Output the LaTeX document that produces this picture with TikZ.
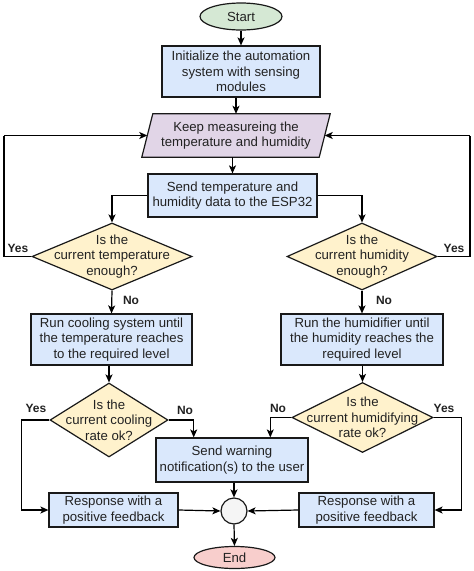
\documentclass[tikz,border=0pt]{standalone}
\usepackage{fontspec}
\setmainfont{Liberation Sans}
\usetikzlibrary{shapes.geometric,arrows.meta,calc}
\definecolor{cblue}{HTML}{DAE8FC}
\definecolor{cyel}{HTML}{FFF2CC}
\definecolor{cpur}{HTML}{E1D5E7}
\definecolor{cgreen}{HTML}{D5E8D4}
\definecolor{cred}{HTML}{F8CECC}
\definecolor{cgray}{HTML}{F5F5F5}
\definecolor{ctext}{HTML}{222222}
\begin{document}
\begin{tikzpicture}[x=1pt,y=-1pt,
  every node/.style={font=\fontsize{13.2}{15.5}\selectfont, text=ctext},
  base/.style={draw=black!90, line width=1.2pt, inner sep=0pt, align=center},
  proc/.style={base, rectangle, fill=cblue},
  dia/.style={base, diamond, fill=cyel},
  term/.style={base, ellipse},
  lbl/.style={font=\bfseries\fontsize{12}{13}\selectfont},
  conn/.style={line width=1.2pt, -{Stealth[length=8pt,width=7pt,inset=2pt]}},
  plain/.style={line width=1.2pt}]
\useasboundingbox (0,0) rectangle (474,571);

\node[term, fill=cgreen, minimum width=82pt, minimum height=27pt] (start) at (241,16.5) {Start};
\node[proc, minimum width=158pt, minimum height=51pt] (init) at (241,71.5) {Initialize the automation\\system with sensing\\modules};
% parallelogram body (invisible rectangle, drawn below)
\node[inner sep=0pt, minimum width=177pt, minimum height=43pt] (meas) at (236,135.5) {};
\filldraw[fill=cpur, draw=black!90, line width=1.2pt, line join=miter]
  ($(meas.south west)+(-5.5,0)$) -- ($(meas.south east)+(-5.5,0)$) --
  ($(meas.north east)+(5.5,0)$) -- ($(meas.north west)+(5.5,0)$) -- cycle;
\node[align=center] (meast) at (meas) {Keep measureing the\\temperature and humidity};
\node[proc, minimum width=169pt, minimum height=43pt] (send) at (232.5,195.5) {Send temperature and\\humidity data to the ESP32};

\node[dia, minimum width=160pt, minimum height=67pt] (d1) at (112,256.5) {};
\node[align=center] (d1t) at (d1) {Is the\\current temperature\\enough?};
\node[dia, minimum width=150pt, minimum height=67pt] (d2) at (362,256.5) {};
\node[align=center] (d2t) at (d2) {Is the\\current humidity\\enough?};

\node[proc, minimum width=161pt, minimum height=51pt] (cool) at (111.5,339.5) {Run cooling system until\\the temperature reaches\\to the required level};
\node[proc, minimum width=162pt, minimum height=51pt] (hum) at (362,339.5) {Run the humidifier until\\the humidity reaches the\\required level};

\node[dia, minimum width=118pt, minimum height=74pt] (d3) at (109,420) {};
\node[align=center] (d3t) at (d3) {Is the\\current cooling\\rate ok?};
\node[dia, minimum width=141pt, minimum height=70pt] (d4) at (362.5,417.5) {};
\node[align=center] (d4t) at (d4) {Is the\\current humidifying\\rate ok?};

\node[proc, minimum width=152pt, minimum height=44pt] (warn) at (232,460) {Send warning\\notification(s) to the user};
\node[proc, minimum width=129pt, minimum height=34pt] (resL) at (113.5,510) {Response with a\\positive feedback};
\node[proc, minimum width=135pt, minimum height=34pt] (resR) at (366.5,510) {Response with a\\positive feedback};
\node[base, circle, fill=cgray, minimum size=26pt] (circ) at (234,511) {};
\node[term, fill=cred, minimum width=81pt, minimum height=22pt] (end) at (234.5,557.5) {End};

\coordinate (yl) at (4,135.5);
\coordinate (yr) at (470,135.5);

\draw[conn] (start) -- (init);
\draw[conn] (init.south -| meas.north) -- (meas.north);
\draw[conn] (meas.south -| send.north) -- (send.north);
\draw[conn] (send.west) -| (d1.north);
\draw[conn] (send.east) -| (d2.north);
\draw[conn] (d1.south) -- (cool.north);
\draw[conn] (d2.south) -- (hum.north);
\draw[plain] (d1.west) -| (yl);
\draw[conn] (yl) -- (meas.west);
\draw[plain] (d2.east) -| (yr);
\draw[conn] (yr) -- (meas.east);
\draw[conn] (cool.south -| d3.north) -- (d3.north);
\draw[conn] (hum.south -| d4.north) -- (d4.north);
\draw[conn] (d3.east) -| ($(warn.north west)!0.25!(warn.north east)$);
\draw[conn] (d4.west) -| ($(warn.north west)!0.75!(warn.north east)$);
\draw[conn] (d3.west) -- ++(-28,0) |- (resL.west);
\draw[conn] (d4.east) -- ++(28,0) |- (resR.east);
\draw[conn] (warn.south -| circ.north) -- (circ.north);
\draw[conn] (resL.east) -- (circ.west);
\draw[conn] (resR.west) -- (circ.east);
\draw[conn] (circ.south) -- (end.north);

\node[lbl] (l1) at (18,248) {Yes};
\node[lbl] (l2) at (454,248) {Yes};
\node[lbl] (l3) at (131,300.5) {No};
\node[lbl] (l4) at (384,300.5) {No};
\node[lbl] (l5) at (36,408) {Yes};
\node[lbl] (l6) at (185,410.5) {No};
\node[lbl] (l7) at (278,408) {No};
\node[lbl] (l8) at (444,408) {Yes};
\end{tikzpicture}
\end{document}
